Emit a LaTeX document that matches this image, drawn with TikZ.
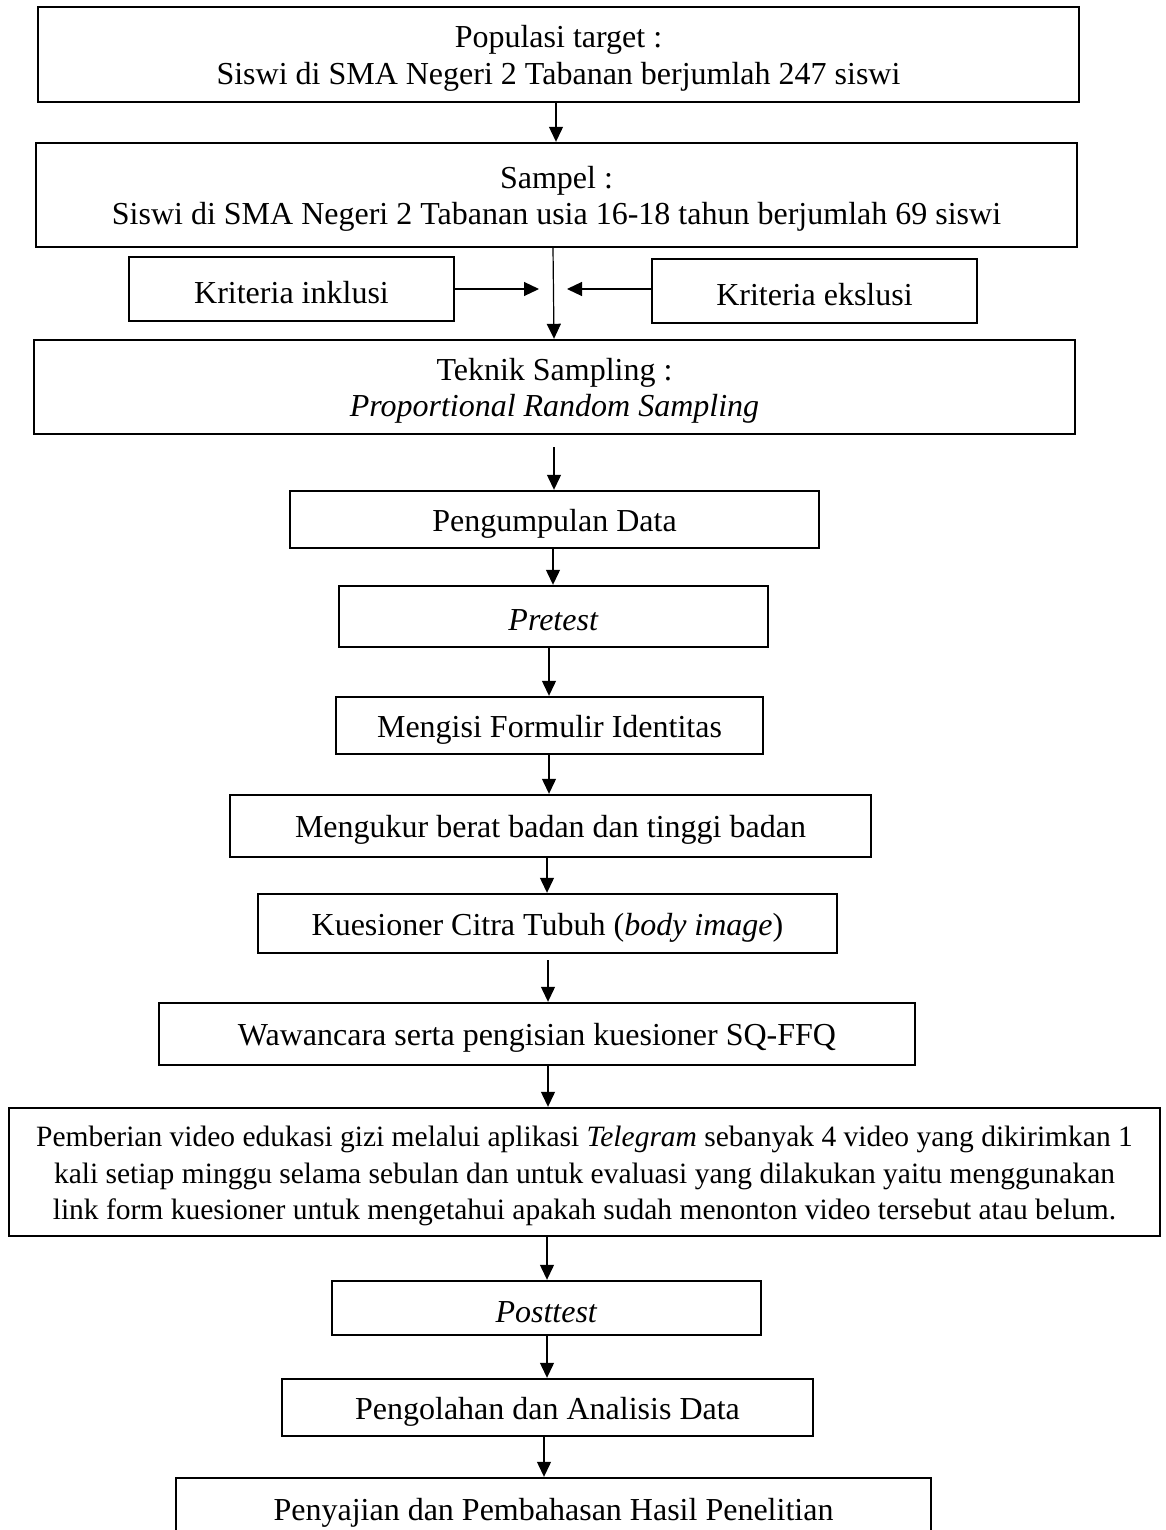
\documentclass[tikz,border=0pt]{standalone}
\usepackage{fontspec}
\setmainfont{Liberation Serif}
\usetikzlibrary{arrows.meta}
\newcommand\flowbox[7][16pt]{%
  \node[box,minimum width={(#5-#3)*0.5pt},minimum height={(#6-#4)*0.5pt}] (#2) at ({(#3+#5)/2},{(#4+#6)/2}) {};
  \node[boxtext,font=\fontsize{#1}{18.25pt}\selectfont] (#2-t) at ([yshift=-2pt]#2.center) {#7};}
\begin{document}
\begin{tikzpicture}[x=0.5pt,y=-0.5pt,
  box/.style={draw=black,line width=1.2pt,fill=white,inner sep=0pt},
  boxtext/.style={inner sep=0pt,align=center,text=black},
  arr/.style={draw=black,line width=0.6pt,-{Triangle[length=7.5pt,width=7pt]}}]
\useasboundingbox[fill=white] (0,0) rectangle (1166,1530);
\clip (0,0) rectangle (1166,1530);

\flowbox{b1}{38}{7}{1079}{102}{Populasi target :\\Siswi di SMA Negeri 2 Tabanan berjumlah 247 siswi}
\flowbox{b2}{36}{143}{1077}{247}{Sampel :\\Siswi di SMA Negeri 2 Tabanan usia 16-18 tahun berjumlah 69 siswi}
\flowbox{inkl}{129}{257}{454}{321}{Kriteria inklusi}
\flowbox{eksl}{652}{259}{977}{323}{Kriteria ekslusi}
\flowbox{b3}{34}{340}{1075}{434}{Teknik Sampling :\\\textit{Proportional Random Sampling}}
\flowbox{pd}{290}{491}{819}{548}{Pengumpulan Data}
\flowbox{pre}{339}{586}{768}{647}{\textit{Pretest}}
\flowbox{mfi}{336}{697}{763}{754}{Mengisi Formulir Identitas}
\flowbox{mbb}{230}{795}{871}{857}{Mengukur berat badan dan tinggi badan}
\flowbox{kct}{258}{894}{837}{953}{Kuesioner Citra Tubuh (\textit{body image})}
\flowbox{waw}{159}{1003}{915}{1065}{Wawancara serta pengisian kuesioner SQ-FFQ}
\flowbox[14.75pt]{big}{9}{1108}{1160}{1236}{Pemberian video edukasi gizi melalui aplikasi \textit{Telegram} sebanyak 4 video yang dikirimkan 1\\kali setiap minggu selama sebulan dan untuk evaluasi yang dilakukan yaitu menggunakan\\link form kuesioner untuk mengetahui apakah sudah menonton video tersebut atau belum.}
\flowbox{post}{332}{1281}{761}{1335}{\textit{Posttest}}
\flowbox{peng}{282}{1379}{813}{1436}{Pengolahan dan Analisis Data}
\flowbox{peny}{176}{1478}{931}{1540}{Penyajian dan Pembahasan Hasil Penelitian}

\coordinate (ti) at (539,289);
\coordinate (te) at (567,289);
\coordinate (g1) at (554,447);
\coordinate (g2) at (548,960);

\draw[arr] (b1.south -| 556,0) -- (b2.north -| 556,0);
\draw[arr] (b2.south -| 553,0) -- (b3.north -| 554,0);
\draw[arr] (inkl.east |- ti) -- (ti);
\draw[arr] (eksl.west |- te) -- (te);
\draw[arr] (g1) -- (pd.north -| g1);
\draw[arr] (pd.south -| 553,0) -- (pre.north -| 553,0);
\draw[arr] (pre.south -| 549,0) -- (mfi.north -| 549,0);
\draw[arr] (mfi.south -| 549,0) -- (mbb.north -| 549,0);
\draw[arr] (mbb.south -| 547,0) -- (kct.north -| 547,0);
\draw[arr] (g2) -- (waw.north -| g2);
\draw[arr] (waw.south -| 548,0) -- (big.north -| 548,0);
\draw[arr] (big.south -| 547,0) -- (post.north -| 547,0);
\draw[arr] (post.south -| 547,0) -- (peng.north -| 547,0);
\draw[arr] (peng.south -| 544,0) -- (peny.north -| 544,0);
\end{tikzpicture}
\end{document}
